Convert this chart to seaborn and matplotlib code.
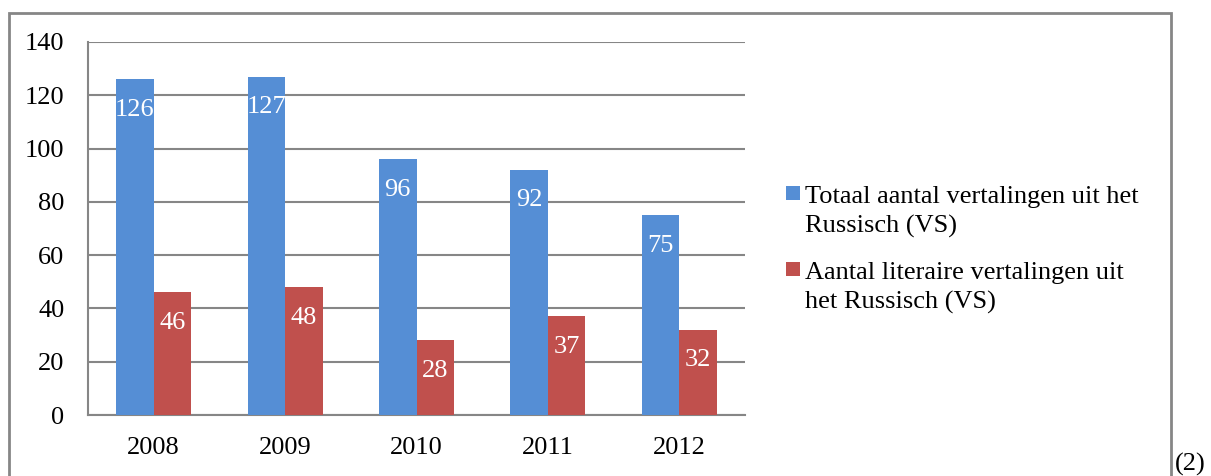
import matplotlib
matplotlib.use("Agg")
import matplotlib.pyplot as plt
from matplotlib.patches import Rectangle
import seaborn as sns
import pandas as pd

years = ["2008", "2009", "2010", "2011", "2012"]
series_names = [
    "Totaal aantal vertalingen uit het\nRussisch (VS)",
    "Aantal literaire vertalingen uit\nhet Russisch (VS)",
]
totaal = [126, 127, 96, 92, 75]
literair = [46, 48, 28, 37, 32]
y_ticks = [0, 20, 40, 60, 80, 100, 120, 140]
colors = ["#558ED5", "#C0504D"]
grid_gray = "#868686"
FS = 19

sns.set_theme(style="white")
plt.rcParams["font.family"] = ["Liberation Serif", "DejaVu Serif"]
plt.rcParams["text.color"] = "black"

df = pd.DataFrame({
    "jaar": years * 2,
    "reeks": [series_names[0]] * len(years) + [series_names[1]] * len(years),
    "aantal": totaal + literair,
})

W, H = 1211, 476
fig = plt.figure(figsize=(W / 100, H / 100), dpi=100)
ax = fig.add_axes([88 / W, 61 / H, (745 - 88) / W, (415 - 42) / H])

sns.barplot(data=df, x="jaar", y="aantal", hue="reeks", palette=colors,
            width=0.57, saturation=1, ax=ax, legend=False, zorder=3, linewidth=0)

# white value labels inside each bar, just below its top
for container in ax.containers:
    for bar in container:
        val = bar.get_height()
        ax.annotate(f"{val:g}", (bar.get_x() + bar.get_width() / 2, val),
                    xytext=(0, -22), textcoords="offset points",
                    ha="center", va="center", color="white", fontsize=FS, zorder=4)

ax.set_ylim(0, 140)
ax.set_xlim(-0.5, len(years) - 0.5)
ax.set_yticks(y_ticks)
ax.set_yticklabels([str(t) for t in y_ticks])
ax.yaxis.grid(True, color=grid_gray, linewidth=1.5, zorder=0)
ax.set_axisbelow(True)

# tick marks between categories, labels at category centres
ax.set_xticks([i - 0.5 for i in range(len(years) + 1)])
ax.set_xticklabels([])
ax.set_xticks(range(len(years)), minor=True)
ax.set_xticklabels(years, minor=True)
ax.tick_params(axis="x", which="major", length=8, width=1.5, color=grid_gray, direction="out")
ax.tick_params(axis="x", which="minor", length=0, pad=16, labelsize=FS, labelcolor="black")
ax.tick_params(axis="y", length=7, width=1.5, color=grid_gray, direction="out", pad=10,
               labelsize=FS, labelcolor="black")
ax.set_xlabel("")
ax.set_ylabel("")

for side in ["top", "right"]:
    ax.spines[side].set_visible(False)
for side in ["left", "bottom"]:
    ax.spines[side].set_color(grid_gray)
    ax.spines[side].set_linewidth(1.5)

# legend drawn beside the plot
legend_rows = [186, 262]
for ytop, name, col in zip(legend_rows, series_names, colors):
    fig.patches.append(Rectangle((786 / W, 1 - (ytop + 14) / H), 14 / W, 14 / H,
                                 transform=fig.transFigure, facecolor=col, edgecolor="none"))
    fig.text(805 / W, 1 - ytop / H, name, fontsize=FS, va="top", ha="left",
             linespacing=1.4, color="black")

# chart frame
fig.patches.append(Rectangle((9 / W, -0.05), (1171 - 9) / W, 1.05 - 13 / H,
                             transform=fig.transFigure, fill=False,
                             edgecolor=grid_gray, linewidth=2))
fig.text(1175 / W, 0, "(2)", fontsize=FS, ha="left", va="bottom", color="black")

fig.savefig("out.png", dpi=100)
